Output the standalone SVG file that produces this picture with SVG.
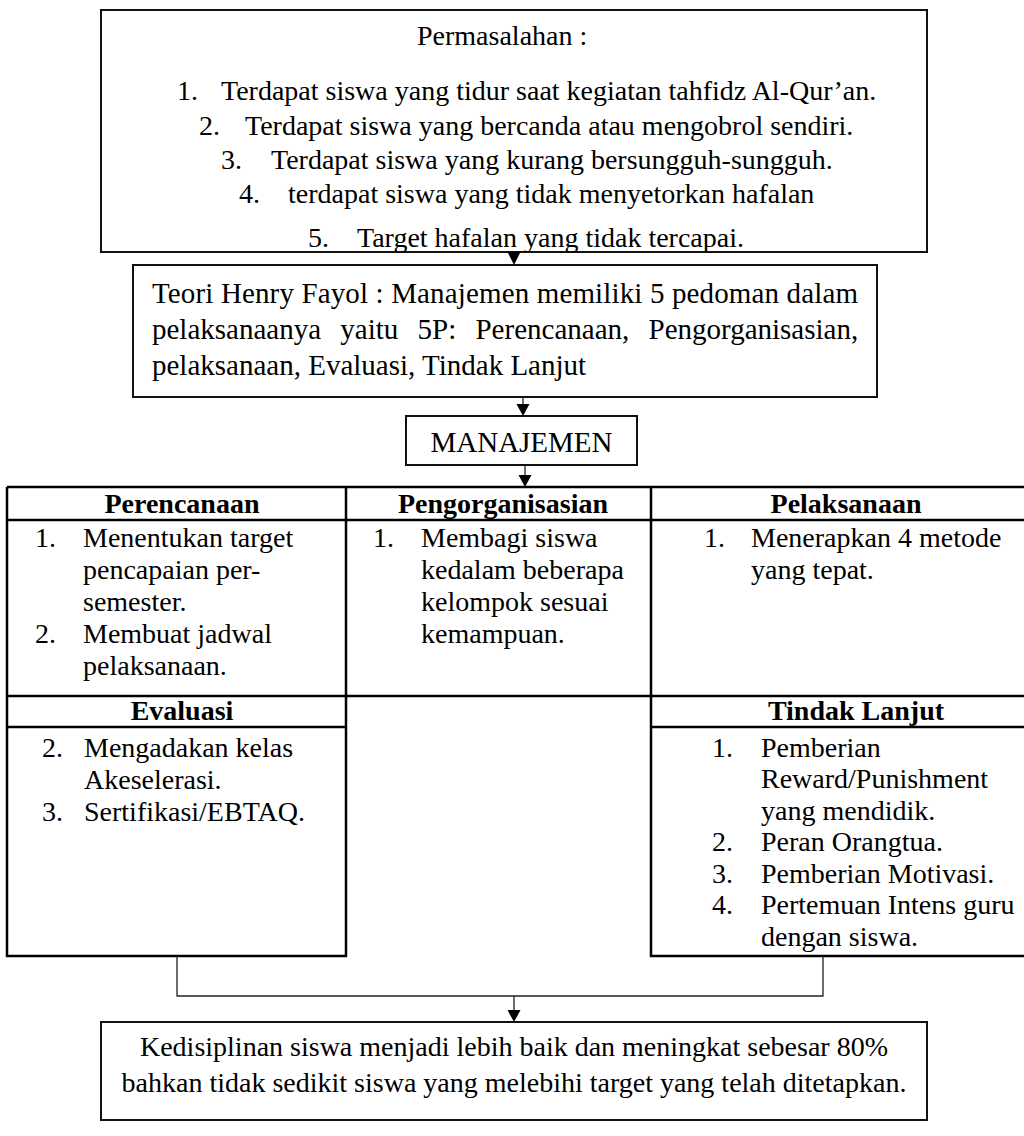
<svg xmlns="http://www.w3.org/2000/svg" width="1024" height="1136" viewBox="0 0 1024 1136">
<style>
text{font-family:"Liberation Serif","Times New Roman",serif;fill:#000;font-size:28px}
.b{font-weight:bold}
.c{text-anchor:middle}
.box{fill:#fff;stroke:#111;stroke-width:2}
.tb{fill:none;stroke:#000;stroke-width:2.5}
.ln{fill:none;stroke:#222;stroke-width:1.3}
.ah{fill:#000}
</style>
<defs>
<clipPath id="clipTop"><rect x="101" y="10" width="826" height="242"/></clipPath>
</defs>
<rect width="1024" height="1136" fill="#fff"/>

<g id="permasalahan">
<rect class="box" x="101" y="10" width="826" height="242"/>
<g clip-path="url(#clipTop)">
<text x="417" y="45">Permasalahan :</text>
<text x="177" y="100">1.</text><text x="221" y="100">Terdapat siswa yang tidur saat kegiatan tahfidz Al-Qur’an.</text>
<text x="199" y="135">2.</text><text x="245" y="135">Terdapat siswa yang bercanda atau mengobrol sendiri.</text>
<text x="221" y="169">3.</text><text x="271" y="169">Terdapat siswa yang kurang bersungguh-sungguh.</text>
<text x="239" y="203">4.</text><text x="288" y="203">terdapat siswa yang tidak menyetorkan hafalan</text>
<text x="308" y="247">5.</text><text x="357" y="247">Target hafalan yang tidak tercapai.</text>
</g>
</g>

<g id="teori">
<rect class="box" x="133" y="265" width="744" height="132" stroke-width="1.6"/>
<text x="152" y="303" style="font-size:29px" textLength="706" lengthAdjust="spacing">Teori Henry Fayol : Manajemen memiliki 5 pedoman dalam</text>
<text x="152" y="339" style="font-size:29px;word-spacing:12px">pelaksanaanya yaitu 5P: Perencanaan, Pengorganisasian,</text>
<text x="152" y="375" style="font-size:29px">pelaksanaan, Evaluasi, Tindak Lanjut</text>
</g>

<g id="manajemen">
<rect class="box" x="406" y="416" width="231" height="49" stroke-width="1.6"/>
<text x="521.5" y="452" class="c" style="font-size:29px">MANAJEMEN</text>
</g>

<g id="table">
<path class="tb" d="M7 487H1030M7 520H1030M7 696H1030M7 487V956H346V487M651 487V956H1030M7 727H346M651 727H1030"/>
</g>

<g id="perencanaan">
<text x="182" y="513" class="b c">Perencanaan</text>
<text x="35" y="547">1.</text><text x="83" y="547">Menentukan target</text>
<text x="83" y="579">pencapaian per-</text>
<text x="83" y="611">semester.</text>
<text x="35" y="643">2.</text><text x="83" y="643">Membuat jadwal</text>
<text x="83" y="675">pelaksanaan.</text>
</g>

<g id="pengorganisasian">
<text x="503" y="513" class="b c">Pengorganisasian</text>
<text x="373" y="547">1.</text><text x="421" y="547">Membagi siswa</text>
<text x="421" y="579">kedalam beberapa</text>
<text x="421" y="611">kelompok sesuai</text>
<text x="421" y="643">kemampuan.</text>
</g>

<g id="pelaksanaan">
<text x="846" y="513" class="b c">Pelaksanaan</text>
<text x="704" y="547">1.</text><text x="751" y="547">Menerapkan 4 metode</text>
<text x="751" y="579">yang tepat.</text>
</g>

<g id="evaluasi">
<text x="182" y="720" class="b c">Evaluasi</text>
<text x="42" y="757">2.</text><text x="84" y="757">Mengadakan kelas</text>
<text x="84" y="789">Akeselerasi.</text>
<text x="42" y="821">3.</text><text x="84" y="821">Sertifikasi/EBTAQ.</text>
</g>

<g id="tindak-lanjut">
<text x="856" y="720" class="b c">Tindak Lanjut</text>
<text x="712" y="757">1.</text><text x="761" y="757">Pemberian</text>
<text x="761" y="788">Reward/Punishment</text>
<text x="761" y="820">yang mendidik.</text>
<text x="712" y="851">2.</text><text x="761" y="851">Peran Orangtua.</text>
<text x="712" y="883">3.</text><text x="761" y="883">Pemberian Motivasi.</text>
<text x="712" y="914">4.</text><text x="761" y="914">Pertemuan Intens guru</text>
<text x="761" y="946">dengan siswa.</text>
</g>

<g id="hasil">
<rect class="box" x="101" y="1022" width="826" height="98" stroke-width="1.6"/>
<text x="514" y="1056" class="c">Kedisiplinan siswa menjadi lebih baik dan meningkat sebesar 80%</text>
<text x="514" y="1092" class="c">bahkan tidak sedikit siswa yang melebihi target yang telah ditetapkan.</text>
</g>

<g id="connectors">
<path class="ln" d="M514 252V256"/>
<path class="ah" d="M507.5 252H520.5L514 265Z"/>
<path class="ln" d="M523 397V405"/>
<path class="ah" d="M516.5 404H529.5L523 416Z"/>
<path class="ln" d="M525 465V476"/>
<path class="ah" d="M518.5 475H531.5L525 487Z"/>
<path class="ln" d="M177 956V996H823V956M514 996V1012"/>
<path class="ah" d="M507.5 1010H520.5L514 1022Z"/>
</g>
</svg>
